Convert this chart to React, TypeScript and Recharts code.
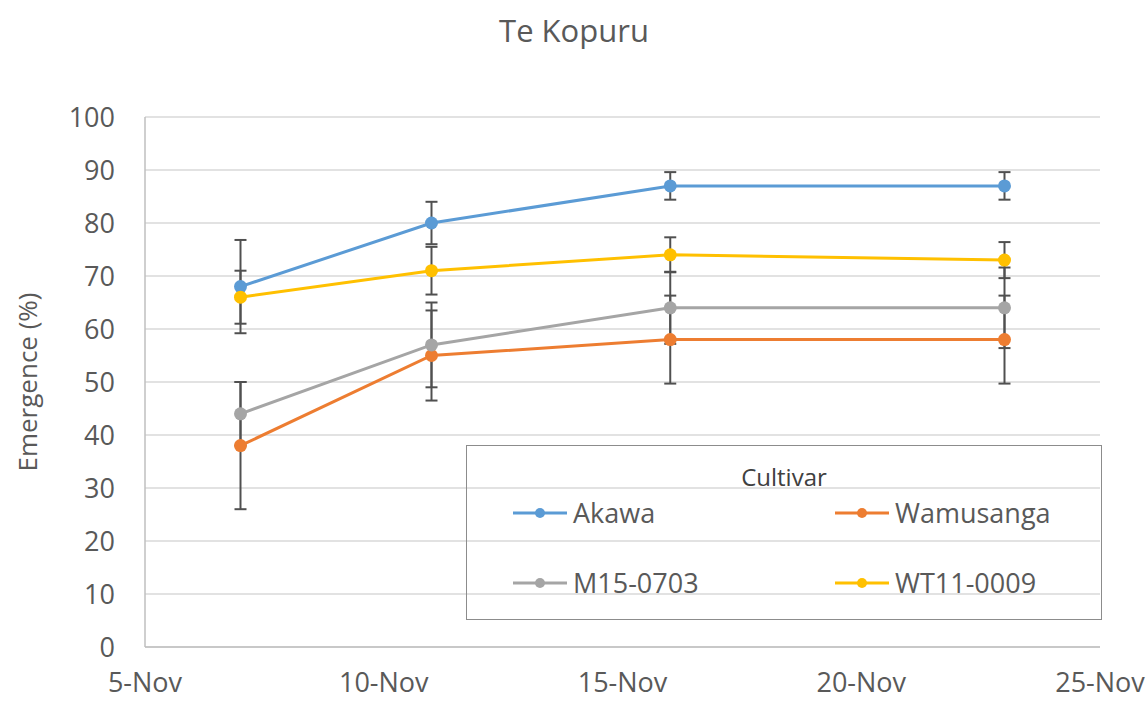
import React from 'react';
import { LineChart, Line, XAxis, YAxis, CartesianGrid, ErrorBar, Legend } from 'recharts';

// days of November
const days = [7, 11, 16, 23];
const xTicks = [5, 10, 15, 20, 25];
const yTicks = [0, 10, 20, 30, 40, 50, 60, 70, 80, 90, 100];

const akawa = [68, 80, 87, 87];
const akawaErr = [8.8, 4, 2.6, 2.6];
const wamusanga = [38, 55, 58, 58];
const wamusangaErr = [12, 8.5, 8.3, 8.3];
const m15 = [44, 57, 64, 64];
const m15Err = [6, 8, 6.8, 7.6];
const wt11 = [66, 71, 74, 73];
const wt11Err = [5, 4.5, 3.3, 3.4];

const series = [
  { key: 'akawa', name: 'Akawa', color: '#5B9BD5' },
  { key: 'wamusanga', name: 'Wamusanga', color: '#ED7D31' },
  { key: 'm15', name: 'M15-0703', color: '#A5A5A5' },
  { key: 'wt11', name: 'WT11-0009', color: '#FFC000' },
];

const data = days.map((d, i) => ({
  day: d,
  akawa: akawa[i],
  akawaErr: akawaErr[i],
  wamusanga: wamusanga[i],
  wamusangaErr: wamusangaErr[i],
  m15: m15[i],
  m15Err: m15Err[i],
  wt11: wt11[i],
  wt11Err: wt11Err[i],
}));

const textGray = '#595959';

// legend laid out like the Excel one: title row + 2x2 grid, in series order
const renderLegend = (props: any) => {
  const order = series.map((s) => s.name);
  const items = [...(props.payload || [])].sort((a: any, b: any) => order.indexOf(a.value) - order.indexOf(b.value));
  const cols = [46, 368];
  const rows = [67, 137];
  return (
    <div style={{ position: 'relative', width: 636, height: 175, border: '1px solid #8c8c8c', boxSizing: 'border-box' }}>
      <div style={{ position: 'absolute', left: 0, width: '100%', top: 15, textAlign: 'center', fontSize: 24, color: '#404040', lineHeight: '32px' }}>
        Cultivar
      </div>
      {items.map((it: any, i: number) => (
        <div
          key={it.value}
          style={{ position: 'absolute', left: cols[i % 2], top: rows[Math.floor(i / 2)] - 18, height: 36, display: 'flex', alignItems: 'center' }}
        >
          <svg width={54} height={14} style={{ marginRight: 6 }}>
            <line x1={0} y1={7} x2={54} y2={7} stroke={it.color} strokeWidth={3} />
            <circle cx={27} cy={7} r={5} fill={it.color} />
          </svg>
          <span style={{ fontSize: 27, color: textGray, lineHeight: '36px' }}>{it.value}</span>
        </div>
      ))}
    </div>
  );
};

export default function App() {
  return (
    <div style={{ position: 'absolute', left: 0, top: 0, width: 1148, height: 702, fontFamily: '"Open Sans", sans-serif', background: '#fff' }}>
      <div style={{ position: 'absolute', left: 0, top: 14, width: 1148, textAlign: 'center', fontSize: 31, lineHeight: '32px', color: textGray }}>
        Te Kopuru
      </div>
      <LineChart width={1148} height={702} data={data} margin={{ top: 117, right: 48, bottom: 0, left: 0 }}>
        <CartesianGrid vertical={false} stroke="#D9D9D9" strokeWidth={1.5} />
        <XAxis
          dataKey="day"
          type="number"
          domain={[5, 25]}
          ticks={xTicks}
          tickFormatter={(d: number) => `${d}-Nov`}
          height={55}
          stroke="#BFBFBF"
          strokeWidth={1.5}
          tickLine={false}
          tickSize={0}
          tickMargin={26}
          tick={{ fontSize: 27, fill: textGray }}
          interval={0}
        />
        <YAxis
          domain={[0, 100]}
          ticks={yTicks}
          width={145}
          stroke="#BFBFBF"
          strokeWidth={1.5}
          tickLine={false}
          tickSize={0}
          tickMargin={30}
          tick={{ fontSize: 27, fill: textGray }}
          interval={0}
          label={{ value: 'Emergence (%)', angle: -90, position: 'insideLeft', offset: 28, style: { textAnchor: 'middle', fontSize: 26, fill: textGray } }}
        />
        <Legend
          layout="horizontal"
          verticalAlign="middle"
          align="center"
          wrapperStyle={{ left: 466, top: 445, width: 636, height: 175 }}
          content={renderLegend}
        />
        {series.map((s) => (
          <Line
            key={s.key}
            dataKey={s.key}
            name={s.name}
            stroke={s.color}
            strokeWidth={3}
            dot={{ r: 6.5, fill: s.color, stroke: s.color, strokeWidth: 0 }}
            isAnimationActive={false}
          >
            <ErrorBar dataKey={`${s.key}Err`} direction="y" width={6} stroke="#505050" strokeWidth={2} />
          </Line>
        ))}
      </LineChart>
    </div>
  );
}
